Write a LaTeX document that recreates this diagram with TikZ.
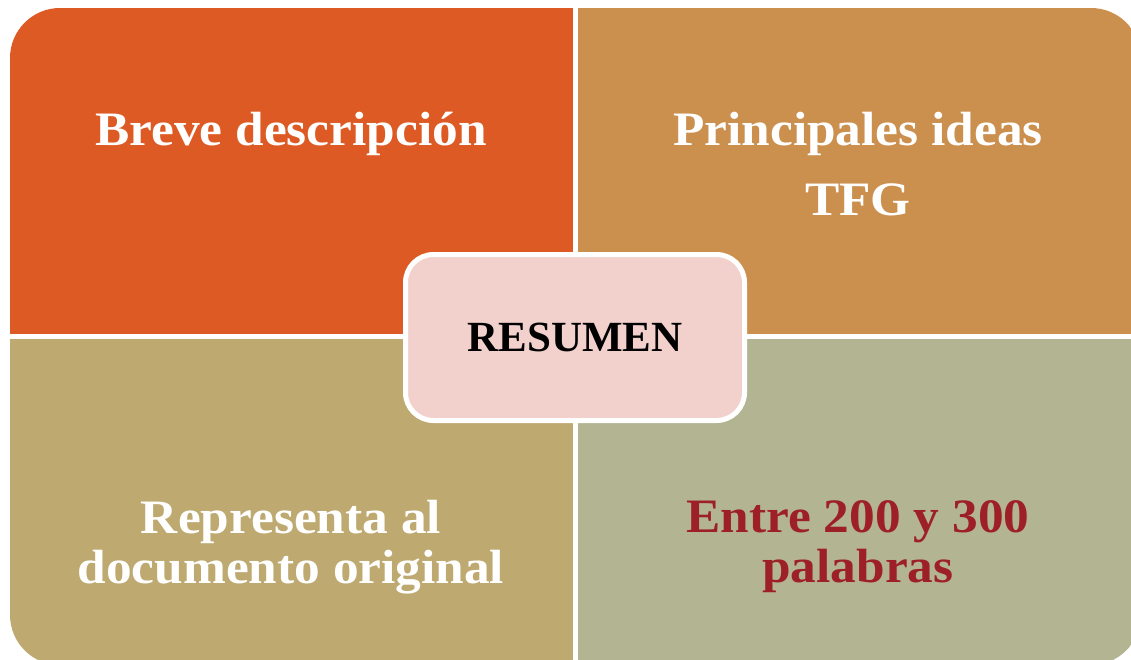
\documentclass[tikz,border=0pt]{standalone}
\usepackage{fontspec}
\setmainfont{Liberation Serif}
\newfontfamily\wideserif[FakeStretch=1.07]{Liberation Serif}
\usepackage{tikz}
\definecolor{qOrange}{HTML}{DD5A24}
\definecolor{qTan}{HTML}{CB8F4E}
\definecolor{qKhaki}{HTML}{BEA970}
\definecolor{qSage}{HTML}{B3B492}
\definecolor{qPink}{HTML}{F2D0CC}
\definecolor{qRed}{HTML}{9E2027}
\newcommand{\drawQuad}[3]{
  \fill[#1] (#2) rectangle (#3);
}
\tikzset{
  quadtext/.style={align=center, font=\wideserif\fontsize{48}{50}\selectfont\bfseries, text=white},
  centerbox/.style={draw=white, line width=5pt, fill=qPink, rounded corners=28pt,
    minimum width=339pt, minimum height=166pt, font=\fontsize{43}{50}\selectfont\bfseries}
}

\begin{document}
\begin{tikzpicture}[x=1pt, y=-1pt]
  \useasboundingbox (0,0) rectangle (1131,659);
  \clip (0,0) rectangle (1131,659);
  % Quadrants
  \begin{scope}
    \clip[rounded corners=50pt] (10,8) rectangle (1141,665);
    \drawQuad{qOrange}{10,8}{575,336.5}
    \drawQuad{qTan}{575,8}{1141,336.5}
    \drawQuad{qKhaki}{10,336.5}{575,665}
    \drawQuad{qSage}{575,336.5}{1141,665}
  \end{scope}
  \draw[white, line width=5pt] (575,0) -- (575,665);
  \draw[white, line width=5pt] (0,336.5) -- (1141,336.5);
  % Nodes
  \node[quadtext] (breve) at (291,134) {Breve descripción};
  \node[quadtext] (ideas) at (858,164) {Principales ideas\\[20pt]TFG};
  \node[quadtext] (representa) at (291,547) {Representa al\\documento original};
  \node[quadtext, text=qRed] (palabras) at (858,547) {Entre 200 y 300\\palabras};
  \node[centerbox] (resumen) at (575,337.5) {RESUMEN};

\end{tikzpicture}
\end{document}
